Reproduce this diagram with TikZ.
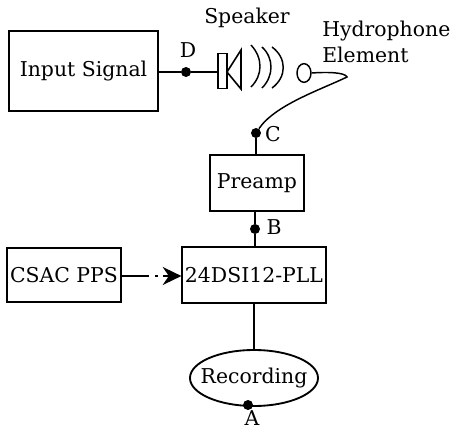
\documentclass[tikz,border=0pt]{standalone}
\usepackage{fontspec}
\setmainfont{DejaVu Serif}
\usetikzlibrary{arrows.meta,shapes.geometric}

\tikzset{
    block/.style={draw=black, line width=1.4pt, inner sep=0pt, font=\fontsize{15.3pt}{20pt}\selectfont},
    probe/.style={circle, fill=black, inner sep=0pt, minimum size=7.5pt},
    label/.style={inner sep=0pt, font=\fontsize{15.3pt}{20pt}\selectfont},
    wire/.style={line width=1.1pt}
}

\begin{document}
\begin{tikzpicture}[x=0.75pt, y=-0.75pt]
    \useasboundingbox (0,0) rectangle (451,429);
    \node[block, minimum width=111.75pt, minimum height=60pt] (input) at (83.5,71) {Input Signal};
    \node[block, minimum width=70pt, minimum height=42pt] (preamp) at (257,183) {Preamp};
    \node[block, minimum width=107.5pt, minimum height=42pt] (adc) at (254,275) {24DSI12-PLL};
    \node[block, minimum width=85.5pt, minimum height=40.5pt] (csac) at (64,275) {CSAC PPS};
    \node[block, ellipse, inner sep=-20pt, minimum width=96pt, minimum height=42pt] (recording) at (254,378) {Recording};
    \node[draw=black, line width=1.1pt, ellipse, inner sep=0pt, minimum width=10.5pt, minimum height=14pt] (element) at (304,73) {};
    \node[draw=black, line width=1.1pt, inner sep=0pt, minimum width=7pt, minimum height=26pt] (speaker) at (222.5,71) {};
    \node[probe] (dotD) at (186,72) {};
    \node[probe] (dotC) at (256,133) {};
    \node[probe] (dotB) at (255,229) {};
    \node[probe] (dotA) at (248,405) {};
    \node[label] (textSpeaker) at (247,18) {Speaker};
    \node[label, align=left, anchor=west] (textElement) at (322,42) {Hydrophone\\Element};
    \node[label] (textD) at (188,50) {D};
    \node[label] (textC) at (273,134) {C};
    \node[label] (textB) at (274,227) {B};
    \node[label] (textA) at (252,418) {A};
    \coordinate (dashA) at (149,276);
    \coordinate (dashB) at (155,276);
    \coordinate (dashC) at (158,276);
    \coordinate (bend) at (347,77);
    \draw[wire] (input.east |- dotD) -- (dotD) -- (speaker.west |- dotD);
    \draw[line width=1.2pt] (227,72) -- (241,50) -- (241,89) -- cycle;
    \draw[wire] (251,45) .. controls (263,58) and (263,75) .. (251,87);
    \draw[wire] (262,47) .. controls (274,58) and (274,76) .. (262,88);
    \draw[wire] (272,47) .. controls (287,58) and (287,77) .. (272,88);
    \draw[wire] (element.east) .. controls (325,72) and (345,72) .. (bend) .. controls (320,90) and (275,105) .. (dotC);
    \draw[wire] (dotC) -- (preamp.north -| dotC);
    \draw[wire] (preamp.south -| dotB) -- (dotB) -- (adc.north -| dotB);
    \draw[wire] (csac.east |- dashA) -- (dashA);
    \draw[wire] (dashB) -- (dashC);
    \draw[wire, -{Stealth[length=14pt, width=13.5pt]}] (163,276) -- (adc.west |- dashA);
    \draw[wire] (adc.south) -- (recording.north);
\end{tikzpicture}
\end{document}
